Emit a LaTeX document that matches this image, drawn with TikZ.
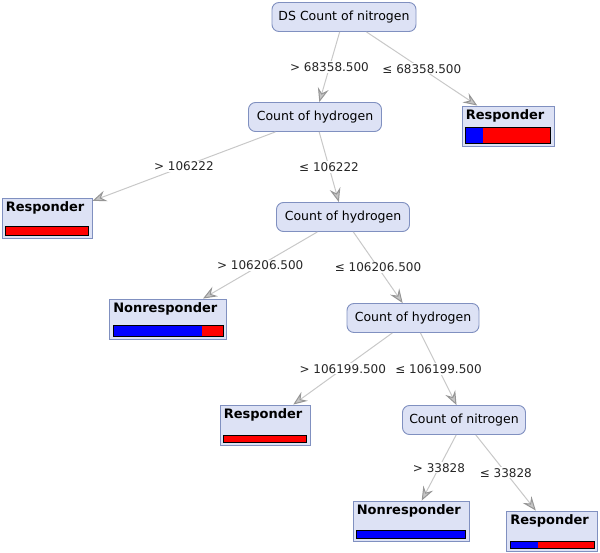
\documentclass[tikz,border=0pt]{standalone}
\usepackage{fontspec}
\setmainfont{DejaVu Sans}
\usetikzlibrary{arrows.meta,calc}
\definecolor{boxfill}{RGB}{221,226,245}
\definecolor{boxline}{RGB}{128,144,192}
\definecolor{edgeline}{RGB}{200,200,200}
\definecolor{tipgray}{RGB}{150,150,150}
\begin{document}
\begin{tikzpicture}[x=1pt,y=-1pt,
  split/.style={draw=boxline,fill=boxfill,line width=0.9pt,rounded corners=7pt,minimum height=29,inner xsep=0pt,font=\fontsize{12.5}{14}\selectfont},
  leaf/.style={draw=boxline,fill=boxfill,line width=0.9pt,minimum height=40,inner sep=0pt},
  leaftext/.style={anchor=north west,inner xsep=4pt,inner ysep=3.5pt,font=\fontsize{13}{15}\selectfont\bfseries},
  edge/.style={draw=edgeline,line width=1pt,-{Stealth[length=14pt,width=11pt,inset=5pt,color=tipgray,fill=tipgray!55]}},
  cut/.style={fill=white,inner sep=1pt,font=\fontsize{12}{14}\selectfont,text=black!85}]
\useasboundingbox (0,0) rectangle (600,553);
% split nodes
\node[split,minimum width=144] (root) at (344,17) {DS Count of nitrogen};
\node[split,minimum width=133] (h1) at (315,117) {Count of hydrogen};
\node[split,minimum width=133] (h2) at (343,217) {Count of hydrogen};
\node[split,minimum width=132] (h3) at (413,318) {Count of hydrogen};
\node[split,minimum width=123] (n2) at (464,420) {Count of nitrogen};
% leaves
\node[leaf,minimum width=92] (rT) at (508,126) {};
\node[leaftext] (rT-t) at (rT.north west) {Responder};
\fill[red] ($(rT.south west)+(4,-3)$) rectangle ($(rT.south east)+(-4,-19)$);
\fill[blue] ($(rT.south west)+(4,-3)$) rectangle ($(rT.south west)+(21,-19)$);
\draw ($(rT.south west)+(4,-3)$) rectangle ($(rT.south east)+(-4,-19)$);
\node[leaf,minimum width=90] (rL) at (47,218) {};
\node[leaftext] (rL-t) at (rL.north west) {Responder};
\fill[red,draw=black] ($(rL.south west)+(4,-3)$) rectangle ($(rL.south east)+(-4,-12)$);
\node[leaf,minimum width=117] (nr1) at (168,319) {};
\node[leaftext] (nr1-t) at (nr1.north west) {Nonresponder};
\fill[red] ($(nr1.south west)+(4,-3)$) rectangle ($(nr1.south east)+(-4,-14)$);
\fill[blue] ($(nr1.south west)+(4,-3)$) rectangle ($(nr1.south west)+(93,-14)$);
\draw ($(nr1.south west)+(4,-3)$) rectangle ($(nr1.south east)+(-4,-14)$);
\node[leaf,minimum width=90] (r3) at (265,425) {};
\node[leaftext] (r3-t) at (r3.north west) {Responder};
\fill[red,draw=black] ($(r3.south west)+(4,-3)$) rectangle ($(r3.south east)+(-4,-10)$);
\node[leaf,minimum width=116] (nr2) at (411,521) {};
\node[leaftext] (nr2-t) at (nr2.north west) {Nonresponder};
\fill[blue,draw=black] ($(nr2.south west)+(4,-3)$) rectangle ($(nr2.south east)+(-4,-11)$);
\node[leaf,minimum width=91] (r4) at (552,531) {};
\node[leaftext] (r4-t) at (r4.north west) {Responder};
\fill[red] ($(r4.south west)+(4,-3)$) rectangle ($(r4.south east)+(-4,-10)$);
\fill[blue] ($(r4.south west)+(4,-3)$) rectangle ($(r4.south west)+(32,-10)$);
\draw ($(r4.south west)+(4,-3)$) rectangle ($(r4.south east)+(-4,-10)$);
% edges
\draw[edge] (root) -- node[cut] (e1) {> 68358.500} (h1);
\draw[edge] (root) -- node[cut] (e2) {≤ 68358.500} (rT);
\draw[edge] (h1) -- node[cut] (e3) {> 106222} (rL);
\draw[edge] (h1) -- node[cut] (e4) {≤ 106222} (h2);
\draw[edge] (h2) -- node[cut] (e5) {> 106206.500} (nr1);
\draw[edge] (h2) -- node[cut] (e6) {≤ 106206.500} (h3);
\draw[edge] (h3) -- node[cut] (e7) {> 106199.500} (r3);
\draw[edge] (h3) -- node[cut] (e8) {≤ 106199.500} (n2);
\draw[edge] (n2) -- node[cut] (e9) {> 33828} (nr2);
\draw[edge] (n2) -- node[cut] (e10) {≤ 33828} (r4);
\end{tikzpicture}
\end{document}
